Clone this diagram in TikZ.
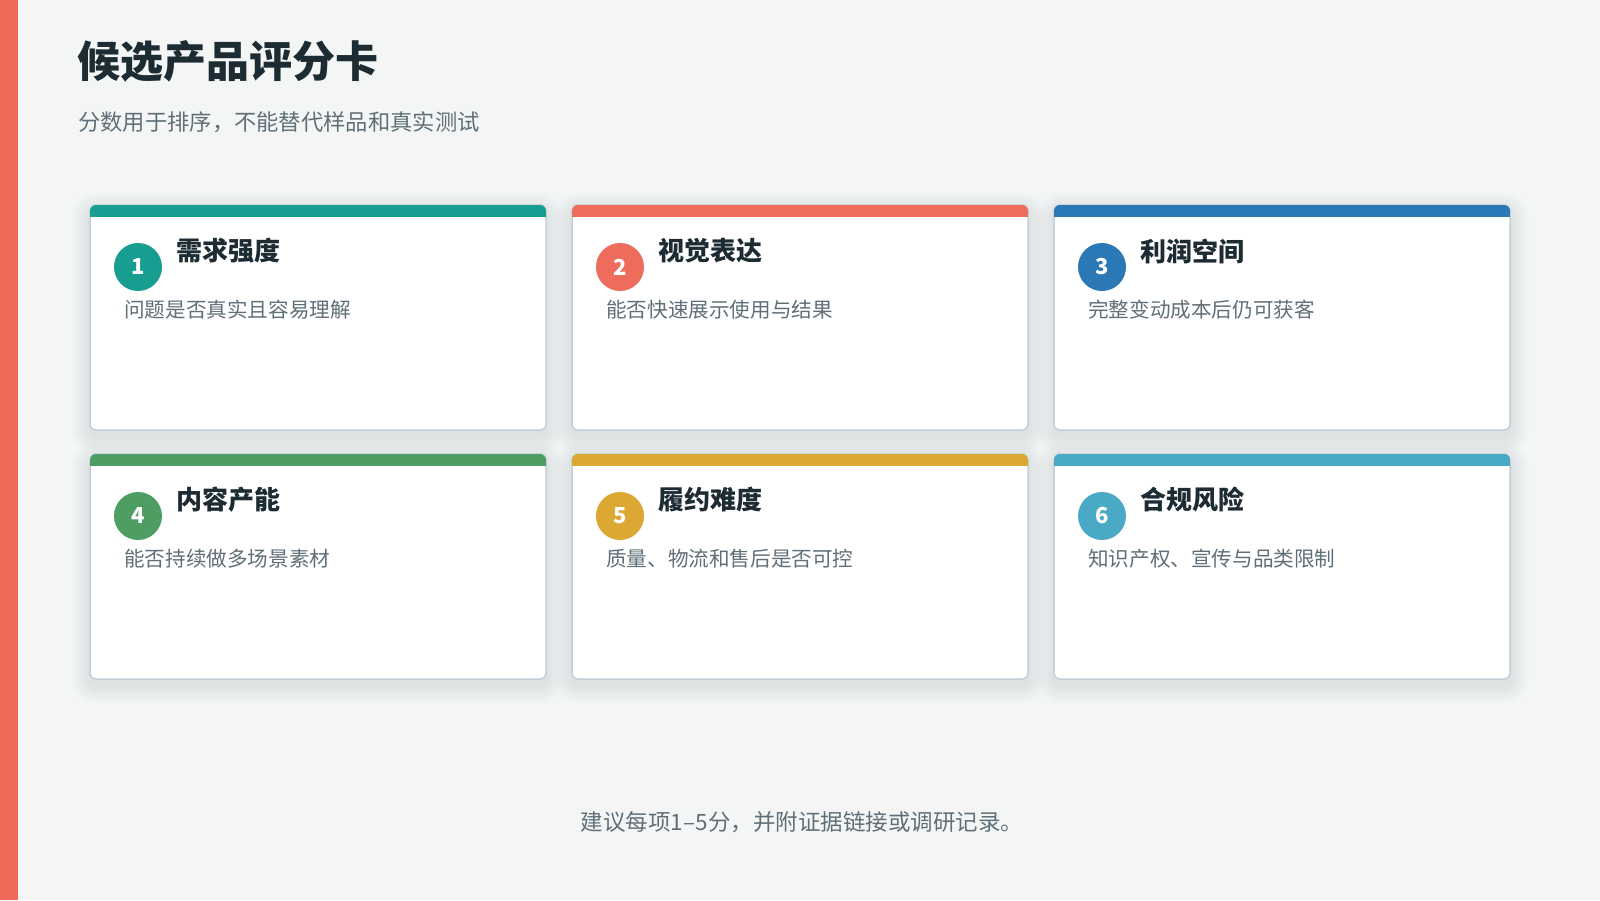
\documentclass[tikz,border=0pt]{standalone}
\usepackage{fontspec}
\setmainfont{Noto Sans CJK SC}
\definecolor{bg}{HTML}{F4F6F6}
\definecolor{leftbar}{HTML}{F06A5A}
\definecolor{cteal}{HTML}{179E91}
\definecolor{cred}{HTML}{EE6C5C}
\definecolor{cblue}{HTML}{2A78B5}
\definecolor{cgreen}{HTML}{4E9E64}
\definecolor{cgold}{HTML}{DDA733}
\definecolor{clblue}{HTML}{4AA9C5}
\definecolor{ink}{HTML}{1D2B33}
\definecolor{muted}{HTML}{5F6F78}
\definecolor{cardline}{HTML}{C4CFD5}
\definecolor{shade}{HTML}{8A9AA2}
\tikzset{
  cardbox/.style={draw=cardline, line width=1.5pt, fill=white, rounded corners=6pt},
  softshadow/.style={fill=shade, fill opacity=0.018, draw=none},
  numdot/.style={circle, minimum size=48pt, inner sep=0pt, text=white, font=\fontsize{22}{24}\selectfont\bfseries},
  cardtitle/.style={anchor=west, inner sep=0pt, text=ink, font=\fontsize{26}{28}\selectfont\bfseries},
  carddesc/.style={anchor=west, inner sep=0pt, text=muted, font=\fontsize{20.6}{24}\selectfont},
}
\begin{document}
\begin{tikzpicture}[x=1pt,y=-1pt]
\fill[bg] (0,0) rectangle (1600,900);
\useasboundingbox (0,0) rectangle (1600,900);
\node[anchor=west, inner sep=0pt, text=ink, font=\fontsize{43}{46}\selectfont\bfseries] (title) at (77,61) {候选产品评分卡};
\node[anchor=west, inner sep=0pt, text=muted, font=\fontsize{22.3}{26}\selectfont] (subtitle) at (78,122) {分数用于排序，不能替代样品和真实测试};
\foreach \c/\r in {0/0,1/0,2/0,0/1,1/1,2/1}{
  \pgfmathsetmacro{\xo}{90+482*\c}
  \pgfmathsetmacro{\yo}{205+249*\r}
  \foreach \k in {1,...,10}{
    \fill[softshadow, rounded corners={6pt+1.8*\k}] (\xo-1.8*\k,\yo+6-1.8*\k) rectangle (\xo+456+1.8*\k,\yo+225+6+1.8*\k);
  }
}
\foreach \c/\r/\n/\col/\ttl/\dsc in {
  0/0/1/cteal/需求强度/问题是否真实且容易理解,
  1/0/2/cred/视觉表达/能否快速展示使用与结果,
  2/0/3/cblue/利润空间/完整变动成本后仍可获客,
  0/1/4/cgreen/内容产能/能否持续做多场景素材,
  1/1/5/cgold/履约难度/质量、物流和售后是否可控,
  2/1/6/clblue/合规风险/知识产权、宣传与品类限制}{
  \pgfmathsetmacro{\xo}{90+482*\c}
  \pgfmathsetmacro{\yo}{205+249*\r}
  \draw[cardbox] (\xo,\yo) rectangle ++(456,225);
  \begin{scope}
    \clip[rounded corners=6pt] (\xo,\yo) rectangle ++(456,225);
    \fill[\col] (\xo,\yo) rectangle ++(456,11.5);
  \end{scope}
  \node[numdot, fill=\col] (n\n) at (\xo+48,\yo+62) {\n};
  \node[cardtitle] (t\n) at (\xo+86,\yo+46) {\ttl};
  \node[carddesc] (d\n) at (\xo+34,\yo+105) {\dsc};
}
\fill[leftbar] (0,0) rectangle (18,900);
\node[inner sep=0pt, text=muted, font=\fontsize{22.5}{26}\selectfont] (footer) at (802,822) {建议每项1–5分，并附证据链接或调研记录。};
\end{tikzpicture}
\end{document}
